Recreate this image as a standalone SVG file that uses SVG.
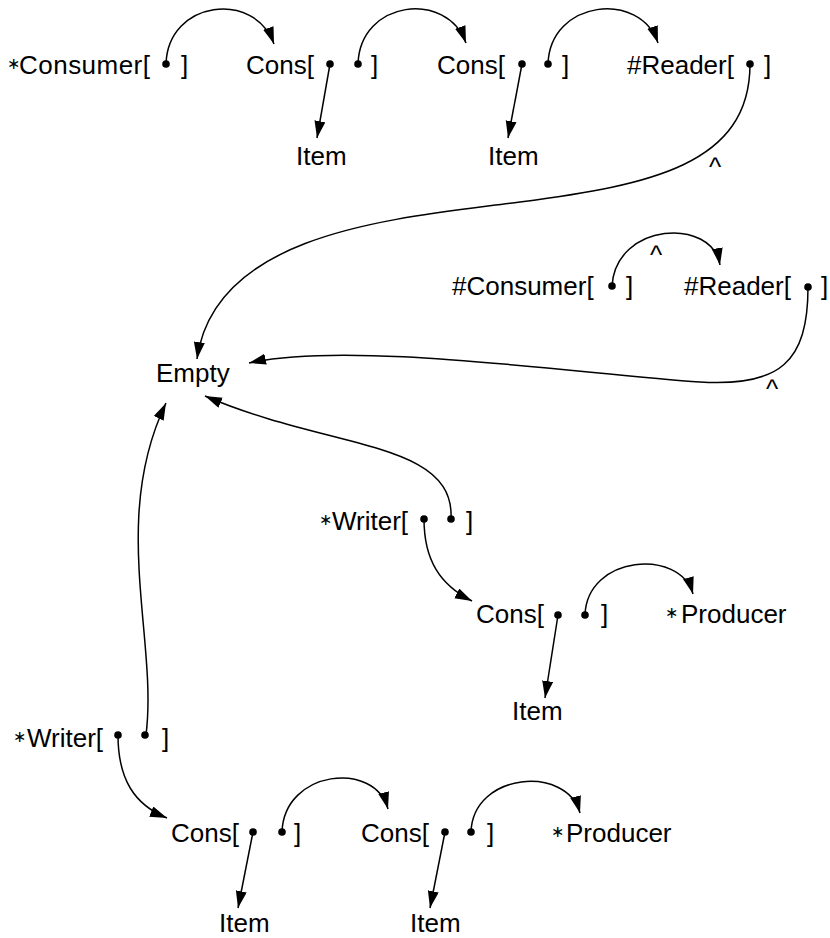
<svg xmlns="http://www.w3.org/2000/svg" width="830" height="938" viewBox="0 0 830 938">
<style>
  text { font-family: "Liberation Sans", Arial, sans-serif; font-size: 26px; fill: #000; }
  .ast { font-family: "DejaVu Sans", sans-serif; font-size: 16px; }
  .c { fill: none; stroke: #000; stroke-width: 1.5; }
  .a { marker-end: url(#arr); }
  .dot { fill: #000; }
</style>
<defs>
  <marker id="arr" markerUnits="userSpaceOnUse" markerWidth="18" markerHeight="12" refX="17" refY="5.5" orient="auto">
    <path d="M0,0 L17,5.5 L0,11 z" fill="#000"/>
  </marker>
</defs>
<rect width="830" height="938" fill="#fff"/>

<g id="connectors">
  <path class="c a" d="M166,64 C168,0 255,-10 274,44"/>
  <path class="c a" d="M330,64 L317,138"/>
  <path class="c a" d="M358,64 C360,0 447,-10 466,43"/>
  <path class="c a" d="M522,64 L508,138"/>
  <path class="c a" d="M548,64 C550,0 640,-10 658,43"/>
  <path class="c a" d="M750,64 C750,165 650,185 520,202 C400,218 215,230 197,359"/>
  <path class="c a" d="M612,286 C616,222 712,217 720,265"/>
  <path class="c a" d="M808,287 C808,362 780,387 700,382 C580,374 350,340 249,363"/>
  <path class="c a" d="M451,519 C455,440 330,450 205,396"/>
  <path class="c a" d="M146,735 C158,640 110,520 166,403"/>
  <path class="c a" d="M424,519 C424,560 440,585 472,601"/>
  <path class="c a" d="M585,615 C587,555 680,548 693,594"/>
  <path class="c a" d="M558,615 L545,698"/>
  <path class="c a" d="M118,735 C118,780 135,805 167,818"/>
  <path class="c a" d="M253,832 L238,908"/>
  <path class="c a" d="M282,832 C284,770 375,760 388,809"/>
  <path class="c a" d="M445,832 L430,908"/>
  <path class="c a" d="M471,832 C473,772 567,765 580,813"/>
</g>

<g id="consumer-top">
  <text><tspan class="ast" x="7" y="69">∗</tspan><tspan x="19" y="74" textLength="131" lengthAdjust="spacing">Consumer[</tspan><tspan x="181" y="74">]</tspan></text>
  <circle class="dot" cx="166" cy="64" r="3.8"/>
</g>
<g id="cons-top-1">
  <text x="246" y="74">Cons[</text><text x="371" y="74">]</text>
  <circle class="dot" cx="330" cy="64" r="3.8"/><circle class="dot" cx="358" cy="64" r="3.8"/>
</g>
<g id="item-top-1"><text x="296" y="165">Item</text></g>
<g id="cons-top-2">
  <text x="437" y="74">Cons[</text><text x="562" y="74">]</text>
  <circle class="dot" cx="522" cy="64" r="3.8"/><circle class="dot" cx="548" cy="64" r="3.8"/>
</g>
<g id="item-top-2"><text x="488" y="165">Item</text></g>
<g id="reader-top">
  <text x="627" y="74">#Reader[</text><text x="764" y="74">]</text>
  <circle class="dot" cx="750" cy="64" r="3.8"/>
</g>
<g id="caret-1"><text x="709" y="176">^</text></g>

<g id="consumer-mid">
  <text x="452" y="295">#Consumer[</text><text x="626" y="295">]</text>
  <circle class="dot" cx="612" cy="286" r="3.8"/>
</g>
<g id="caret-2"><text x="650" y="264">^</text></g>
<g id="reader-mid">
  <text x="684" y="295">#Reader[</text><text x="821" y="295">]</text>
  <circle class="dot" cx="808" cy="287" r="3.8"/>
</g>
<g id="caret-3"><text x="766" y="398">^</text></g>
<g id="empty"><text x="156" y="382">Empty</text></g>

<g id="writer-mid">
  <text><tspan class="ast" x="319" y="525">∗</tspan><tspan x="332" y="530">Writer[</tspan><tspan x="466" y="530">]</tspan></text>
  <circle class="dot" cx="424" cy="519" r="3.8"/><circle class="dot" cx="451" cy="519" r="3.8"/>
</g>
<g id="cons-mid">
  <text x="476" y="623">Cons[</text><text x="601" y="623">]</text>
  <circle class="dot" cx="558" cy="615" r="3.8"/><circle class="dot" cx="585" cy="615" r="3.8"/>
</g>
<g id="producer-mid">
  <text><tspan class="ast" x="665" y="618">∗</tspan><tspan x="681" y="623">Producer</tspan></text>
</g>
<g id="item-mid"><text x="512" y="720">Item</text></g>

<g id="writer-bot">
  <text><tspan class="ast" x="13" y="742">∗</tspan><tspan x="27" y="747">Writer[</tspan><tspan x="162" y="747">]</tspan></text>
  <circle class="dot" cx="118" cy="735" r="3.8"/><circle class="dot" cx="145" cy="735" r="3.8"/>
</g>
<g id="cons-bot-1">
  <text x="171" y="842">Cons[</text><text x="294" y="842">]</text>
  <circle class="dot" cx="253" cy="832" r="3.8"/><circle class="dot" cx="282" cy="832" r="3.8"/>
</g>
<g id="item-bot-1"><text x="219" y="932">Item</text></g>
<g id="cons-bot-2">
  <text x="361" y="842">Cons[</text><text x="487" y="842">]</text>
  <circle class="dot" cx="445" cy="832" r="3.8"/><circle class="dot" cx="471" cy="832" r="3.8"/>
</g>
<g id="item-bot-2"><text x="410" y="932">Item</text></g>
<g id="producer-bot">
  <text><tspan class="ast" x="551" y="837">∗</tspan><tspan x="566" y="842">Producer</tspan></text>
</g>
</svg>
